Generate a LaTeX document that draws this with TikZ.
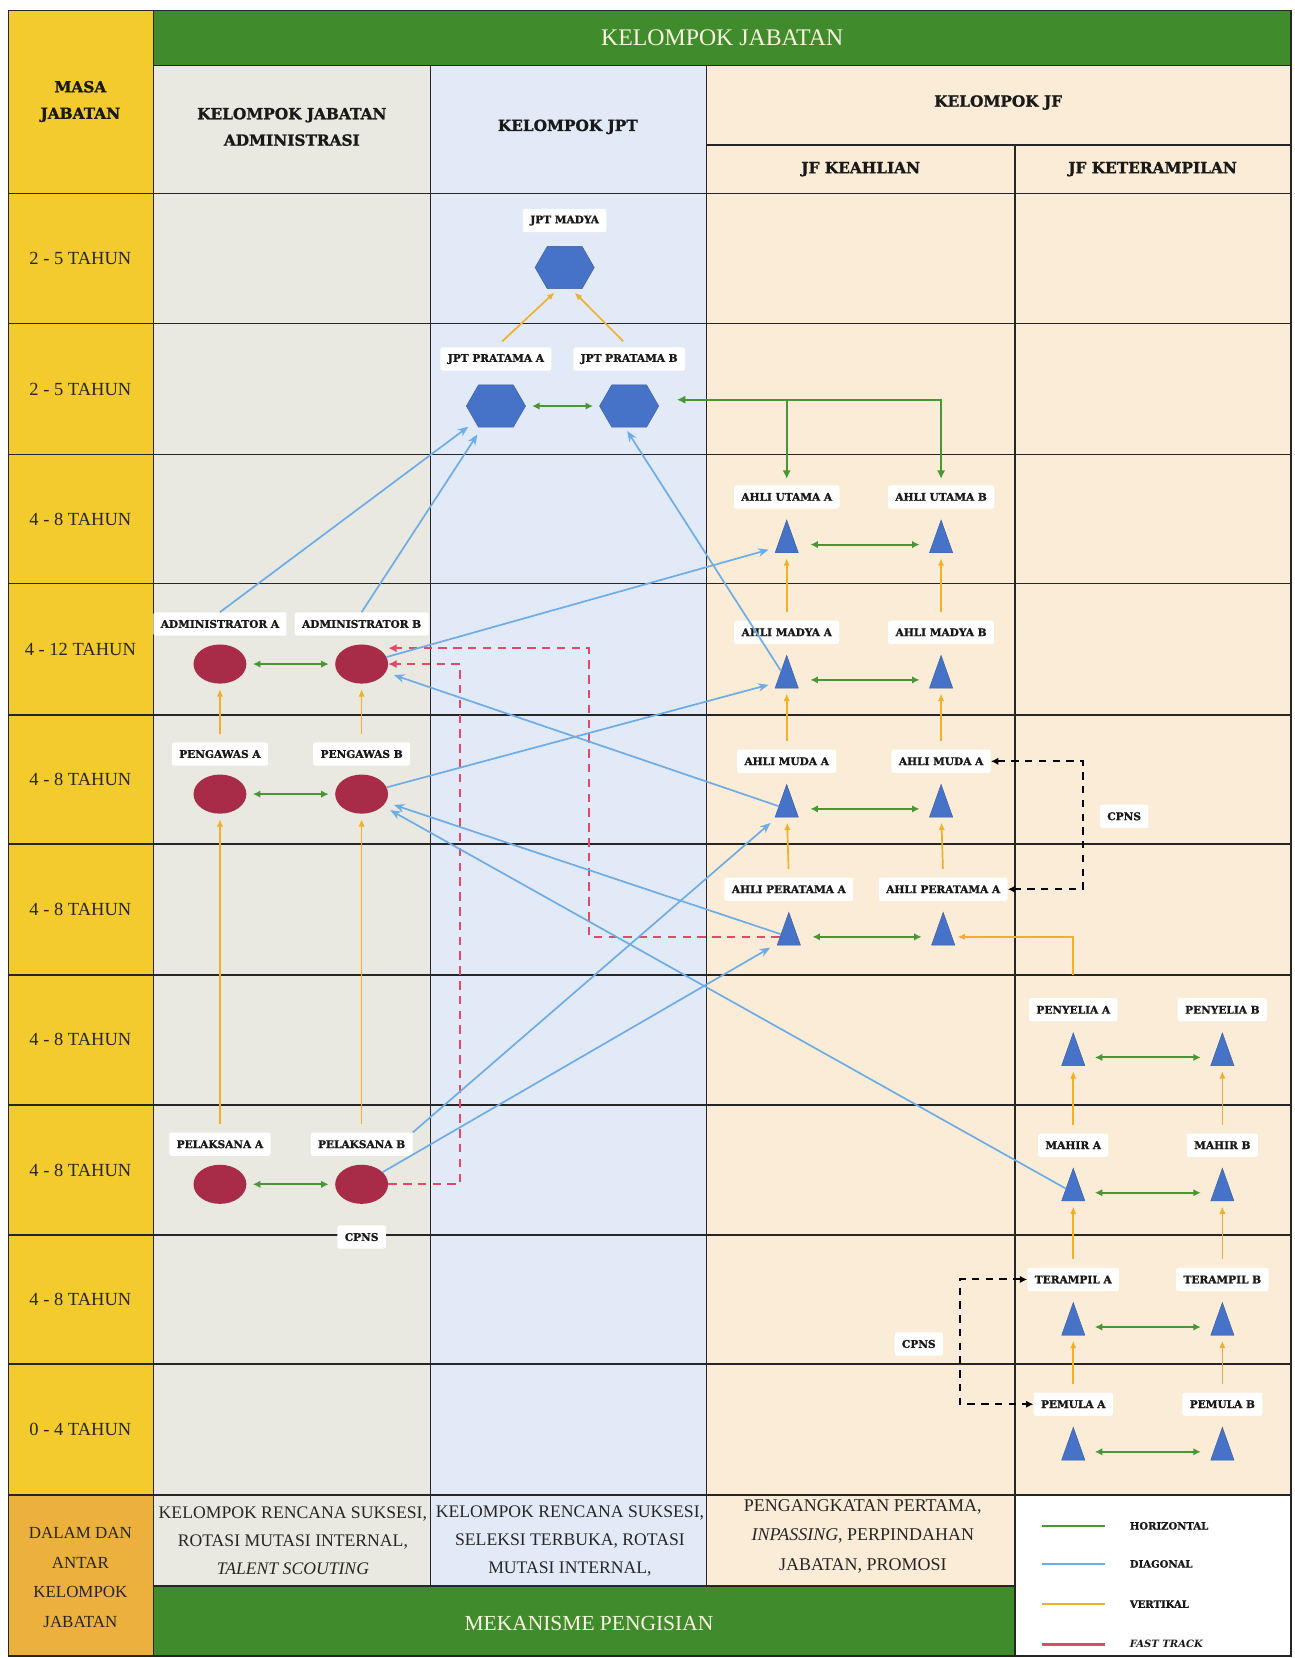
\documentclass[tikz,border=0pt]{standalone}
\usepackage{fontspec}
\setmainfont{Liberation Serif}
\newfontfamily\slab{DejaVu Serif}[BoldFeatures={FakeBold=1.3}]
\usetikzlibrary{positioning}
\usetikzlibrary{shapes.geometric}
\usetikzlibrary{shapes.symbols}
\usetikzlibrary{arrows.meta}

\definecolor{colYel}{RGB}{243,203,45}
\definecolor{colOrg}{RGB}{236,176,60}
\definecolor{colGrn}{RGB}{64,140,44}
\definecolor{colAdm}{RGB}{233,233,226}
\definecolor{colJpt}{RGB}{226,234,248}
\definecolor{colJf}{RGB}{250,236,214}
\definecolor{colRuby}{RGB}{168,44,72}
\definecolor{colHex}{RGB}{70,115,200}
\definecolor{colHdrTxt}{RGB}{250,245,225}
\definecolor{arGrn}{RGB}{72,150,52}
\definecolor{arBlu}{RGB}{110,172,232}
\definecolor{arYel}{RGB}{240,176,42}
\definecolor{arRed}{RGB}{226,72,104}

\begin{document}
\begin{tikzpicture}[x=1pt, y=-1pt,
		grid/.style = {draw=black!85, line width=1.4pt},
		lbl/.style = {fill=white, rounded corners=2pt, inner xsep=7pt, inner ysep=0pt, minimum height=22pt, text=black!90, font=\slab\bfseries\fontsize{10}{12}\selectfont},
		hdr/.style = {align=center, text=black!90, font=\slab\bfseries\fontsize{14.5}{25}\selectfont},
		rowlbl/.style = {text=black!85, font=\fontsize{17.5}{20}\selectfont},
		btxt/.style = {align=center, text=black!85, font=\fontsize{16.7}{26.5}\selectfont},
		band/.style = {text=colHdrTxt, font=\fontsize{22.5}{26}\selectfont},
		leg/.style = {anchor=west, text=black!90, font=\slab\bfseries\fontsize{9.5}{11}\selectfont},
		adm/.style = {ellipse, fill=colRuby, minimum width=50pt, minimum height=37pt, inner sep=0pt},
		jpt/.style = {signal, signal to=east and west, signal pointer angle=120, minimum width=56pt, minimum height=40pt, inner sep=0pt, fill=colHex, draw=colHex!80!black},
		jf/.style = {isosceles triangle, isosceles triangle apex angle=40, isosceles triangle stretches, shape border rotate=90, fill=colHex, draw=colHex!80!black, minimum width=22pt, minimum height=31pt, inner sep=0pt, yshift=-8pt},
		horz/.style = {<->, >={Latex[length=7pt,width=7pt]}, arGrn, line width=1.9pt, shorten <=6pt, shorten >=6pt},
		vert/.style = {->, >={Latex[length=7pt,width=6pt]}, arYel, line width=1.6pt, shorten <=8pt, shorten >=5pt},
		diag/.style = {->, >={Stealth[length=10pt,width=8pt]}, arBlu, line width=1.6pt, shorten >=8pt},
		fast/.style = {->, >={Latex[length=8pt,width=8pt]}, arRed, line width=2.2pt, dash pattern=on 8pt off 6pt},
		cpns/.style = {<->, >={Latex[length=7pt,width=7pt]}, black, line width=1.8pt, dash pattern=on 7pt off 6pt},
		gtree/.style = {>={Latex[length=8pt,width=8pt]}, arGrn, line width=1.8pt}
	]
	\useasboundingbox (0,0) rectangle (1224,1568);
	\fill[white] (0,0) rectangle (1224,1568);

	\fill[colYel] (8,10) rectangle (145,1414);
	\fill[colOrg] (8,1414) rectangle (145,1566);
	\fill[colGrn] (145,10) rectangle (1221,62);
	\fill[colAdm] (145,62) rectangle (407,1500);
	\fill[colJpt] (407,62) rectangle (668,1500);
	\fill[colJf] (668,62) rectangle (1221,1414);
	\fill[colJf] (668,1414) rectangle (960,1500);
	\fill[colGrn] (145,1500) rectangle (960,1566);

	\draw[grid] (8,10) rectangle (1221,1566);
	\draw[grid] (145,10) -- (145,1566);
	\draw[grid] (145,62) -- (1221,62);
	\draw[grid] (668,137) -- (1221,137);
	\foreach \y in {183,306,430,552,676,798,922,1045,1168,1290,1414}
		\draw[grid] (8,\y) -- (1221,\y);
	\draw[grid] (407,62) -- (407,1500) (668,62) -- (668,1500) (960,137) -- (960,1566) (145,1500) -- (960,1500);

	\node[band] (tJab) at (683,36) {KELOMPOK JABATAN};
	\node[hdr] (tMasa) at (76,96) {MASA\\JABATAN};
	\node[hdr] (tAdm) at (276,120) {KELOMPOK JABATAN\\ADMINISTRASI};
	\node[hdr] (tJpt) at (537,120) {KELOMPOK JPT};
	\node[hdr] (tJf) at (944,97) {KELOMPOK JF};
	\node[hdr] (tKea) at (814,160) {JF KEAHLIAN};
	\node[hdr] (tKet) at (1090,160) {JF KETERAMPILAN};

	\node[rowlbl] (r1) at (76,244) {2 - 5 TAHUN};
	\node[rowlbl] (r2) at (76,368) {2 - 5 TAHUN};
	\node[rowlbl] (r3) at (76,491) {4 - 8 TAHUN};
	\node[rowlbl] (r4) at (76,614) {4 - 12 TAHUN};
	\node[rowlbl] (r5) at (76,737) {4 - 8 TAHUN};
	\node[rowlbl] (r6) at (76,860) {4 - 8 TAHUN};
	\node[rowlbl] (r7) at (76,983) {4 - 8 TAHUN};
	\node[rowlbl] (r8) at (76,1107) {4 - 8 TAHUN};
	\node[rowlbl] (r9) at (76,1229) {4 - 8 TAHUN};
	\node[rowlbl] (r10) at (76,1352) {0 - 4 TAHUN};

	\node[adm] (admA) at (208,628) {};
	\node[adm] (admB) at (342,628) {};
	\node[adm] (pengA) at (208,751) {};
	\node[adm] (pengB) at (342,751) {};
	\node[adm] (pelA) at (208,1120) {};
	\node[adm] (pelB) at (342,1120) {};
	\node[lbl, above=8pt of admA] (ladmA) {ADMINISTRATOR A};
	\node[lbl, above=8pt of admB] (ladmB) {ADMINISTRATOR B};
	\node[lbl, above=8pt of pengA] (lpengA) {PENGAWAS A};
	\node[lbl, above=8pt of pengB] (lpengB) {PENGAWAS B};
	\node[lbl, above=8pt of pelA] (lpelA) {PELAKSANA A};
	\node[lbl, above=8pt of pelB] (lpelB) {PELAKSANA B};
	\node[lbl, below=20pt of pelB] (lcpA) {CPNS};

	\node[jpt] (jptM) at (534,253) {};
	\node[jpt] (jptA) at (469,384) {};
	\node[jpt] (jptB) at (595,384) {};
	\node[lbl, above=13pt of jptM] (ljptM) {JPT MADYA};
	\node[lbl, above=13pt of jptA] (ljptA) {JPT PRATAMA A};
	\node[lbl, above=13pt of jptB] (ljptB) {JPT PRATAMA B};

	\node[jf] (autA) at (744,507) {};
	\node[jf] (autB) at (890,507) {};
	\node[jf] (amadA) at (744,635) {};
	\node[jf] (amadB) at (890,635) {};
	\node[jf] (amuA) at (744,757) {};
	\node[jf] (amuB) at (890,757) {};
	\node[jf] (apA) at (746,878) {};
	\node[jf] (apB) at (892,878) {};
	\node[lbl, above=10pt of autA] (lautA) {AHLI UTAMA A};
	\node[lbl, above=10pt of autB] (lautB) {AHLI UTAMA B};
	\node[lbl, above=10pt of amadA] (lamadA) {AHLI MADYA A};
	\node[lbl, above=10pt of amadB] (lamadB) {AHLI MADYA B};
	\node[lbl, above=10pt of amuA] (lamuA) {AHLI MUDA A};
	\node[lbl, above=10pt of amuB] (lamuB) {AHLI MUDA A};
	\node[lbl, above=10pt of apA] (lapA) {AHLI PERATAMA A};
	\node[lbl, above=10pt of apB] (lapB) {AHLI PERATAMA A};

	\node[jf] (penA) at (1015,992) {};
	\node[jf] (penB) at (1156,992) {};
	\node[jf] (mahA) at (1015,1120) {};
	\node[jf] (mahB) at (1156,1120) {};
	\node[jf] (terA) at (1015,1247) {};
	\node[jf] (terB) at (1156,1247) {};
	\node[jf] (pemA) at (1015,1365) {};
	\node[jf] (pemB) at (1156,1365) {};
	\node[lbl, above=10pt of penA] (lpenA) {PENYELIA A};
	\node[lbl, above=10pt of penB] (lpenB) {PENYELIA B};
	\node[lbl, above=10pt of mahA] (lmahA) {MAHIR A};
	\node[lbl, above=10pt of mahB] (lmahB) {MAHIR B};
	\node[lbl, above=10pt of terA] (lterA) {TERAMPIL A};
	\node[lbl, above=10pt of terB] (lterB) {TERAMPIL B};
	\node[lbl, above=10pt of pemA] (lpemA) {PEMULA A};
	\node[lbl, above=10pt of pemB] (lpemB) {PEMULA B};

	\coordinate (cpR) at (1024,772);
	\coordinate (cpL) at (908,1271);
	\node[lbl, right=16pt of cpR] (lcpR) {CPNS};
	\node[lbl, left=16pt of cpL] (lcpL) {CPNS};

	\node[btxt] (bAdm) at (277,1457) {KELOMPOK RENCANA SUKSESI,\\ROTASI MUTASI INTERNAL,\\\textit{TALENT SCOUTING}};
	\node[btxt] (bJpt) at (539,1457) {KELOMPOK RENCANA SUKSESI,\\SELEKSI TERBUKA, ROTASI\\MUTASI INTERNAL,};
	\node[btxt, font=\fontsize{17}{28}\selectfont] (bJf) at (816,1453) {PENGANGKATAN PERTAMA,\\\textit{INPASSING}, PERPINDAHAN\\JABATAN, PROMOSI};
	\node[btxt, font=\fontsize{16}{28}\selectfont] (bOrg) at (76,1492) {DALAM DAN\\ANTAR\\KELOMPOK\\JABATAN};
	\node[band, font=\fontsize{20.3}{24}\selectfont] (tMek) at (557,1535) {MEKANISME PENGISIAN};

	\node[leg] (legH) at (1065,1443) {HORIZONTAL};
	\node[leg] (legD) at (1065,1479) {DIAGONAL};
	\node[leg] (legV) at (1065,1517) {VERTIKAL};
	\node[leg] (legF) at (1065,1555) {\itshape FAST TRACK};
	\draw[arGrn, line width=2.4pt] ([xshift=-80pt]legH.west) -- ([xshift=-20pt]legH.west);
	\draw[arBlu, line width=2.4pt] ([xshift=-80pt]legD.west) -- ([xshift=-20pt]legD.west);
	\draw[arYel, line width=2.4pt] ([xshift=-80pt]legV.west) -- ([xshift=-20pt]legV.west);
	\draw[arRed, line width=2.4pt] ([xshift=-80pt]legF.west) -- ([xshift=-20pt]legF.west);

	\draw[horz] (admA) -- (admB);
	\draw[horz] (pengA) -- (pengB);
	\draw[horz] (pelA) -- (pelB);
	\draw[horz] (jptA) -- (jptB);
	\draw[horz, shorten <=14pt, shorten >=12pt] (autA) -- (autB);
	\draw[horz, shorten <=14pt, shorten >=12pt] (amadA) -- (amadB);
	\draw[horz, shorten <=14pt, shorten >=12pt] (amuA) -- (amuB);
	\draw[horz, shorten <=14pt, shorten >=12pt] (apA) -- (apB);
	\draw[horz, shorten <=12pt, shorten >=12pt] (penA) -- (penB);
	\draw[horz, shorten <=12pt, shorten >=12pt] (mahA) -- (mahB);
	\draw[horz, shorten <=12pt, shorten >=12pt] (terA) -- (terB);
	\draw[horz, shorten <=12pt, shorten >=12pt] (pemA) -- (pemB);

	\draw[vert] (lpengA.north) -- (admA);
	\draw[vert] (lpengB.north) -- (admB);
	\draw[vert] (lpelA.north) -- (pengA);
	\draw[vert] (lpelB.north) -- (pengB);
	\draw[vert] (ljptA.north) -- ([xshift=-6pt]jptM.south);
	\draw[vert] (ljptB.north) -- ([xshift=6pt]jptM.south);
	\draw[vert] (lamadA.north) -- (autA);
	\draw[vert] (lamadB.north) -- (autB);
	\draw[vert] (lamuA.north) -- (amadA);
	\draw[vert] (lamuB.north) -- (amadB);
	\draw[vert] (lapA.north) -- (amuA);
	\draw[vert] (lapB.north) -- (amuB);
	\draw[vert] (lmahA.north) -- (penA);
	\draw[vert] (lmahB.north) -- (penB);
	\draw[vert] (lterA.north) -- (mahA);
	\draw[vert] (lterB.north) -- (mahB);
	\draw[vert] (lpemA.north) -- (terA);
	\draw[vert] (lpemB.north) -- (terB);
	\draw[vert, shorten <=22pt] (lpenA.north) |- (apB);

	\coordinate (gbar) at ([yshift=6pt]jptB.east);
	\draw[gtree, <->, shorten <=17pt, shorten >=6pt] (gbar) -| (lautB.north);
	\draw[gtree, ->, shorten >=6pt] (gbar -| lautA.north) -- (lautA.north);

	\draw[cpns] (lamuB.east) -| (cpR) |- (lapB.east);
	\draw[cpns] (lterA.west) -| (cpL) |- (lpemA.west);

	\coordinate (fkA) at (435,628);
	\coordinate (fkB) at (557,613);
	\draw[fast] (pelB) -| (fkA) -- (admB);
	\draw[fast] (apA) -| (fkB) -- (fkB -| admB.east);

	\draw[diag] (ladmA.north) -- (jptA);
	\draw[diag] (ladmB.north) -- (jptA);
	\draw[diag, shorten >=4pt] (amadA) -- ([xshift=-4pt]jptB.south);
	\draw[diag] (admB) -- (autA);
	\draw[diag] (amuA) -- (admB);
	\draw[diag] (pengB) -- (amadA);
	\draw[diag] (apA) -- (pengB);
	\draw[diag] (mahA) -- (pengB);
	\draw[diag] (lpelB.north east) -- (amuA);
	\draw[diag] (pelB) -- (apA);
\end{tikzpicture}
\end{document}
